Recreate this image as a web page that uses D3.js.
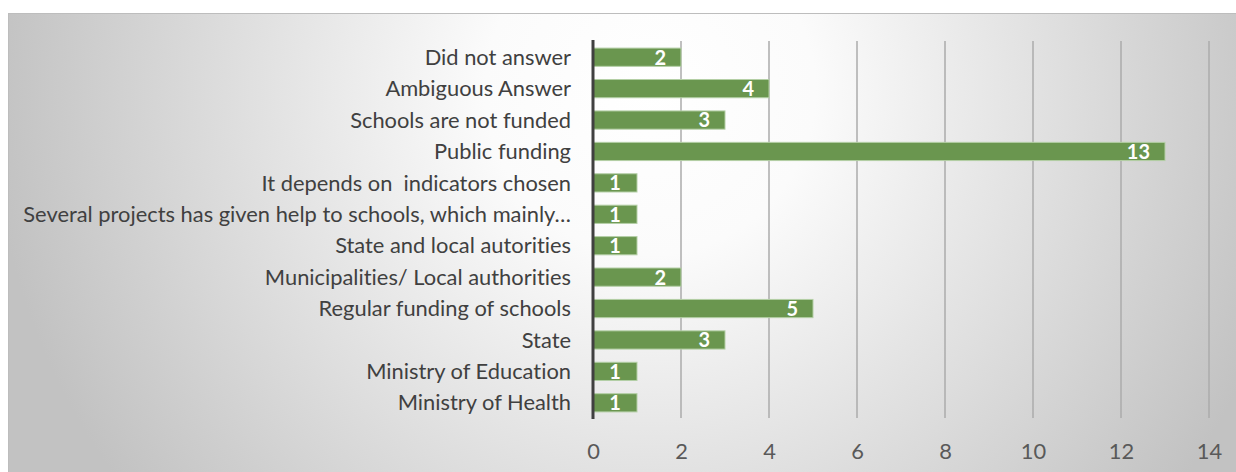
<!DOCTYPE html>
<html><head><meta charset="utf-8">
<script src="https://cdn.jsdelivr.net/npm/d3@7"></script>
<style>html,body{margin:0;padding:0;background:#fff;overflow:hidden}
text{font-variant-ligatures:none;white-space:pre}</style>
</head><body>
<svg id="c" width="1236" height="472"></svg>
<script>
const categories = [
  "Did not answer",
  "Ambiguous Answer",
  "Schools are not funded",
  "Public funding",
  "It depends on  indicators chosen",
  "Several projects has given help to schools, which mainly\u2026",
  "State and local autorities",
  "Municipalities/ Local authorities",
  "Regular funding of schools",
  "State",
  "Ministry of Education",
  "Ministry of Health"
];
const values = [2, 4, 3, 13, 1, 1, 1, 2, 5, 3, 1, 1];
const tickValues = [0, 2, 4, 6, 8, 10, 12, 14];

const svg = d3.select("#c");
const defs = svg.append("defs");
const grad = defs.append("radialGradient").attr("id", "bg")
  .attr("gradientUnits", "userSpaceOnUse")
  .attr("cx", 650).attr("cy", 90).attr("r", 660);
grad.append("stop").attr("offset", 0).attr("stop-color", "#ffffff");
grad.append("stop").attr("offset", 0.25).attr("stop-color", "#fbfbfb");
grad.append("stop").attr("offset", 1).attr("stop-color", "#c2c2c2");

svg.append("rect").attr("x", 8.5).attr("y", 13.5).attr("width", 1240).attr("height", 470)
  .attr("fill", "url(#bg)").attr("stroke", "#bdbdbd").attr("stroke-width", 1);

const x = d3.scaleLinear().domain([0, 14]).range([593, 1209]);
const y = d3.scaleBand().domain(categories).range([41.5, 418.5]).paddingInner(0.42).paddingOuter(0.21);

// gridlines
svg.append("g").selectAll("line").data(tickValues.filter(d => d > 0)).join("line")
  .attr("x1", d => x(d)).attr("x2", d => x(d))
  .attr("y1", 41).attr("y2", 418)
  .attr("stroke", "#ababab").attr("stroke-width", 1.5);

// bars
svg.append("g").selectAll("rect").data(values).join("rect")
  .attr("x", x(0))
  .attr("y", (d, i) => y(categories[i]))
  .attr("width", d => x(d) - x(0))
  .attr("height", y.bandwidth())
  .attr("fill", "#6a964f")
  .attr("stroke", "#b4cfa6").attr("stroke-width", 1);

// value labels
svg.append("g").selectAll("text").data(values).join("text")
  .attr("x", d => d >= 2 ? x(d) - 15 : (x(0) + x(d)) / 2)
  .attr("y", (d, i) => y(categories[i]) + y.bandwidth() / 2)
  .attr("dy", "0.37em")
  .attr("text-anchor", d => d >= 2 ? "end" : "middle")
  .attr("font-family", "Lato, 'Noto Sans', sans-serif")
  .attr("font-weight", "bold")
  .attr("font-size", 20)
  .attr("fill", "#ffffff")
  .text(d => d);

// zero axis line
svg.append("line").attr("x1", x(0)).attr("x2", x(0)).attr("y1", 40).attr("y2", 419)
  .attr("stroke", "#404040").attr("stroke-width", 3);

// category labels
const cat = svg.append("g").selectAll("text").data(categories).join("text")
  .attr("x", 571)
  .attr("y", d => y(d) + y.bandwidth() / 2)
  .attr("dy", "0.35em")
  .attr("text-anchor", "end")
  .attr("font-family", "Lato, 'Noto Sans', sans-serif")
  .attr("font-size", 18)
  .attr("fill", "#404040")
  .text(d => d);
// scale font so longest label spans the same width as in the reference
const longest = d3.max(cat.nodes(), n => n.getComputedTextLength());
const fs = 18 * 548 / longest;
cat.attr("font-size", fs);

// x axis tick labels
const axis = d3.axisBottom(x).tickValues(tickValues).tickSize(0).tickPadding(0);
const ax = svg.append("g").attr("transform", "translate(0,443)").call(axis);
ax.select(".domain").remove();
ax.selectAll("text")
  .attr("font-family", "Lato, 'Noto Sans', sans-serif")
  .attr("font-size", fs)
  .attr("fill", "#595959");
</script>
</body></html>
